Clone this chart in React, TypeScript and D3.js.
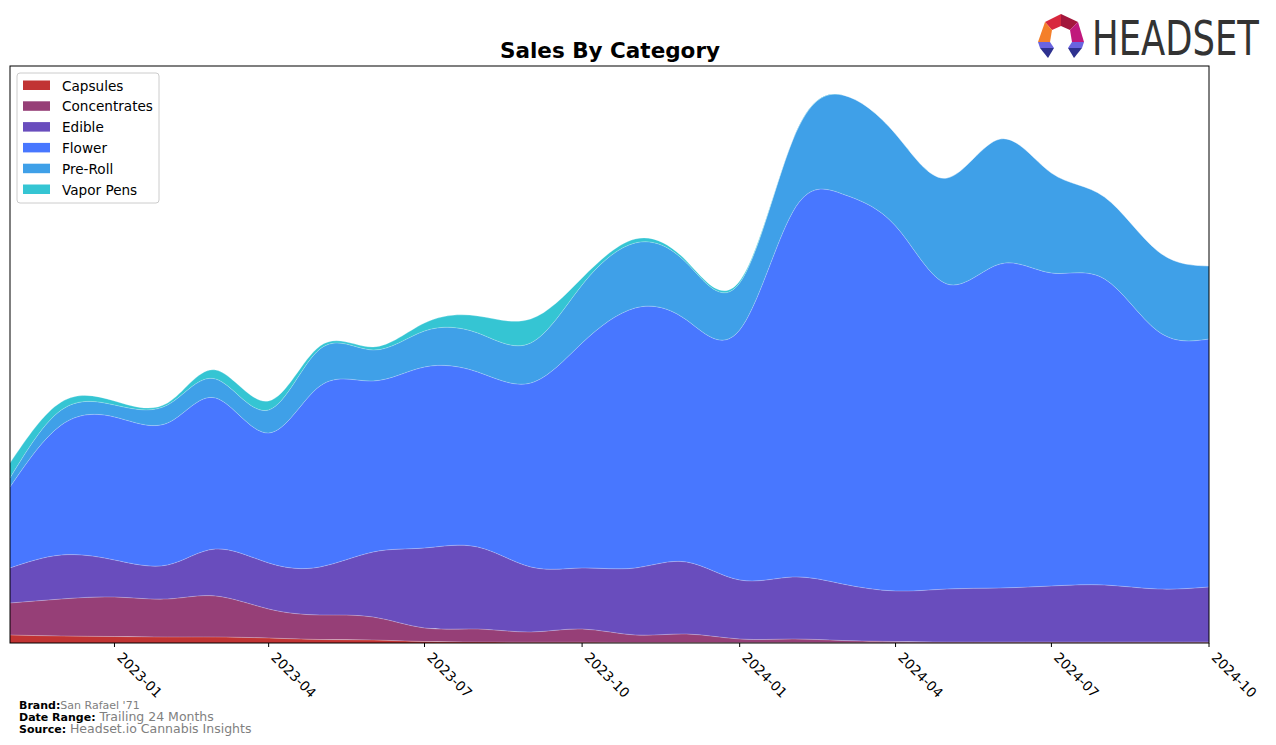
import React from "react";
import * as d3 from "d3";

const months = [
  "2022-11", "2022-12", "2023-01", "2023-02", "2023-03", "2023-04",
  "2023-05", "2023-06", "2023-07", "2023-08", "2023-09", "2023-10",
  "2023-11", "2023-12", "2024-01", "2024-02", "2024-03", "2024-04",
  "2024-05", "2024-06", "2024-07", "2024-08", "2024-09", "2024-10",
];

const categories = ["Capsules", "Concentrates", "Edible", "Flower", "Pre-Roll", "Vapor Pens"];

const capsules = [8, 7, 6.5, 6, 6, 5, 3.5, 3, 1.5, 1, 0.8, 0.8, 0.5, 0.5, 0.3, 0.3, 0.2, 0.2, 0.2, 0.2, 0.2, 0.2, 0.2, 0.2];
const concentrates = [32, 37, 39.5, 38, 41, 29, 24.5, 23, 13.5, 13, 10.2, 13.2, 7.5, 8.5, 3.7, 3.7, 2.3, 1.3, 0.8, 0.8, 0.8, 0.8, 0.8, 0.8];
const edible = [35, 44, 37, 34, 47, 46, 48, 65, 80, 82, 65, 61, 67, 72, 59, 62, 56.5, 50.5, 53, 54, 56, 57, 53, 55];
const flower = [81, 130, 143, 142, 151, 130, 181, 171, 181, 175, 184, 225, 260, 242, 250, 365, 390, 365, 305, 324, 313, 306, 258, 248];
const preRoll = [9, 15, 12, 18, 19, 23, 37, 31, 36, 39, 40, 58, 65, 57, 47, 72, 99, 92, 106, 125, 100, 82, 80, 73];
const vaporPens = [15, 8, 4, 2, 9, 9, 3, 3, 8, 17, 24, 7, 4, 2, 2, 0, 0, 0, 0, 0, 0, 0, 0, 0];

const tickLabels = ["2023-01", "2023-04", "2023-07", "2023-10", "2024-01", "2024-04", "2024-07", "2024-10"];

const colors = ["#c13333", "#963f77", "#694dbd", "#4877ff", "#3fa0e8", "#35c5d3"];

const seriesValues = [capsules, concentrates, edible, flower, preRoll, vaporPens];

export default function App() {
  const W = 1276, H = 745;
  const left = 10, right = 1209, top = 66, bottom = 643;
  const parse = d3.timeParse("%Y-%m");
  const dates = months.map((m) => parse(m) as Date);
  const x = d3.scaleTime().domain([dates[0], dates[dates.length - 1]]).range([left, right]);
  const y = d3.scaleLinear().domain([0, bottom - top]).range([bottom, top]);

  const table = months.map((m, i) => {
    const row: any = { date: dates[i] };
    categories.forEach((c, k) => (row[c] = seriesValues[k][i]));
    return row;
  });
  const stack = d3.stack<any>().keys(categories);
  const layers = stack(table);

  const area = d3
    .area<any>()
    .x((d) => x(d.data.date))
    .y0((d) => y(d[0]))
    .y1((d) => y(d[1]))
    .curve(d3.curveNatural);
  const line = d3
    .line<any>()
    .x((d) => x(d.data.date))
    .y((d) => y(d[1]))
    .curve(d3.curveNatural);

  const ticks = tickLabels.map((t) => ({ label: t, x: x(parse(t) as Date) }));

  return (
    <svg
      width={W}
      height={H}
      style={{ position: "absolute", left: 0, top: 0, fontFamily: "DejaVu Sans, sans-serif" }}
    >
      <rect x={0} y={0} width={W} height={H} fill="#ffffff" />
      <defs>
        <clipPath id="plotclip">
          <rect x={left} y={top} width={right - left} height={bottom - top} />
        </clipPath>
      </defs>
      <g clipPath="url(#plotclip)">
        {layers.map((layer, k) => (
          <path key={categories[k]} d={area(layer) || ""} fill={colors[k]} />
        ))}
        {layers.map((layer, k) => (
          <path
            key={"l" + categories[k]}
            d={line(layer) || ""}
            fill="none"
            stroke="#ffffff"
            strokeOpacity={0.25}
            strokeWidth={1}
          />
        ))}
      </g>
      <rect x={left} y={top} width={right - left} height={bottom - top} fill="none" stroke="#000" strokeWidth={1} />

      {ticks.map((t) => (
        <g key={t.label}>
          <line x1={t.x} x2={t.x} y1={bottom} y2={bottom + 4} stroke="#000" strokeWidth={1} />
          <text
            transform={`translate(${t.x + 9},${bottom + 8}) rotate(45)`}
            fontSize={13.6}
            fill="#000"
            textAnchor="start"
            dominantBaseline="hanging"
          >
            {t.label}
          </text>
        </g>
      ))}

      <text x={610} y={58} textAnchor="middle" fontSize={21.5} fontWeight="bold" fill="#000">
        Sales By Category
      </text>

      <g>
        <rect x={17} y={73} width={142} height={130} rx={3} fill="#ffffff" fillOpacity={0.8} stroke="#cccccc" />
        {categories.map((c, k) => (
          <g key={c} transform={`translate(0,${80.5 + k * 20.8})`}>
            <rect x={23} y={0} width={27} height={9.5} fill={colors[k]} />
            <text x={62} y={10} fontSize={13.6} fill="#000">
              {c}
            </text>
          </g>
        ))}
      </g>

      <g fontSize={11}>
        <text x={19} y={709}>
          <tspan fontWeight="bold" fill="#000">Brand:</tspan>
          <tspan fill="#808080">San Rafael '71</tspan>
        </text>
        <text x={19} y={721}>
          <tspan fontWeight="bold" fill="#000">Date Range: </tspan>
          <tspan fill="#808080" fontSize={12.5}>Trailing 24 Months</tspan>
        </text>
        <text x={19} y={733}>
          <tspan fontWeight="bold" fill="#000">Source: </tspan>
          <tspan fill="#808080" fontSize={12.5}>Headset.io Cannabis Insights</tspan>
        </text>
      </g>

      <g>
        <polygon points="1045,22 1061,14 1061,26 1052,30" fill="#d8283e" />
        <polygon points="1061,14 1078,22 1070,30 1061,26" fill="#a3173c" />
        <polygon points="1045,22 1052,30 1050,42 1038,42" fill="#f47f2a" />
        <polygon points="1078,22 1084,42 1072,42 1070,30" fill="#c0187c" />
        <polygon points="1038,42 1050,42 1054,48 1040,48" fill="#6a64e0" />
        <polygon points="1040,48 1054,48 1048,58" fill="#2e318f" />
        <polygon points="1072,42 1084,42 1082,48 1068,48" fill="#6a64e0" />
        <polygon points="1068,48 1082,48 1074,58" fill="#2e318f" />
        <g transform="translate(1092,55) scale(1,1.36)">
          <text
            x={0}
            y={0}
            fontSize={35.4}
            fill="#333333"
            textLength={167}
            lengthAdjust="spacingAndGlyphs"
            fontFamily="DejaVu Sans, sans-serif"
          >
            HEADSET
          </text>
        </g>
      </g>
    </svg>
  );
}
